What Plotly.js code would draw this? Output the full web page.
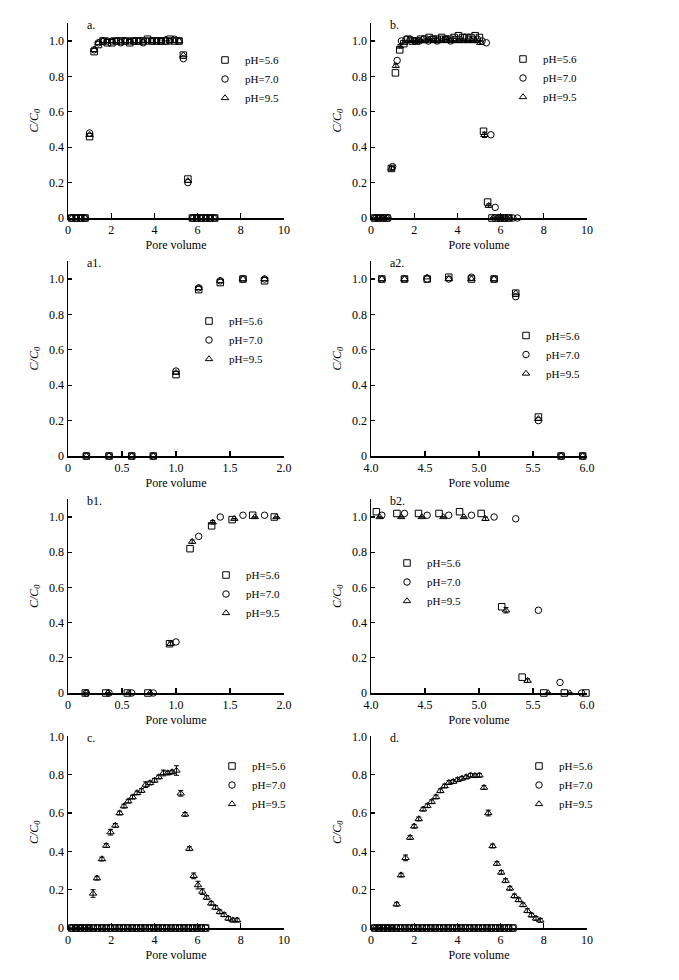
<!DOCTYPE html>
<html><head><meta charset="utf-8">
<script src="https://cdn.plot.ly/plotly-3.0.1.min.js"></script>
<style>html,body{margin:0;padding:0;background:#fff;}#chart{width:679px;height:980px;}</style>
</head><body><div id="chart"></div>
<script>
const seriesNames = ['pH=5.6', 'pH=7.0', 'pH=9.5'];
const panelLabels = ['a.', 'b.', 'a1.', 'a2.', 'b1.', 'b2.', 'c.', 'd.'];
const xTitle = 'Pore volume';
const yTitle = 'C/C<sub>0</sub>';
const yTickVals = [0, 0.2, 0.4, 0.6, 0.8, 1.0];
const yTickText = ['0', '0.2', '0.4', '0.6', '0.8', '1.0'];
const xTickValsFull = [0, 2, 4, 6, 8, 10];
const xTickTextFull = ['0', '2', '4', '6', '8', '10'];
const xTickValsLow = [0, 0.5, 1.0, 1.5, 2.0];
const xTickTextLow = ['0', '0.5', '1.0', '1.5', '2.0'];
const xTickValsHigh = [4.0, 4.5, 5.0, 5.5, 6.0];
const xTickTextHigh = ['4.0', '4.5', '5.0', '5.5', '6.0'];

// Panel a (pH 5.6 / 7.0 / 9.5 share pore volumes)
const aX = [0.17,0.38,0.59,0.79,1.00,1.21,1.41,1.62,1.82,2.03,2.24,2.44,2.65,2.86,3.06,3.27,3.48,3.68,3.89,4.10,4.31,4.52,4.72,4.93,5.14,5.34,5.55,5.76,5.96,6.17,6.38,6.58,6.79];
const aY56 = [0,0,0,0,0.46,0.94,0.98,1.00,0.99,0.99,1.00,1.00,1.00,0.99,1.00,1.00,1.00,1.01,1.00,1.00,1.00,1.00,1.01,1.00,1.00,0.92,0.22,0,0,0,0,0,0];
const aY70 = [0,0,0,0,0.48,0.95,0.99,1.00,1.00,1.00,1.00,0.99,1.00,1.00,1.00,1.00,0.99,1.00,1.00,1.00,1.00,1.00,1.00,1.01,1.00,0.90,0.20,0,0,0,0,0,0];
const aY95 = [0,0,0,0,0.47,0.95,0.99,1.00,1.00,1.00,1.00,1.00,1.00,1.00,1.00,1.00,1.00,1.00,1.00,1.00,1.00,1.01,1.00,1.00,1.00,0.92,0.21,0,0,0,0,0,0];

// Panel b
const bX56 = [0.16,0.35,0.55,0.74,0.94,1.13,1.33,1.52,1.71,1.91,2.10,2.30,2.49,2.69,2.88,3.07,3.27,3.46,3.66,3.85,4.05,4.24,4.44,4.63,4.82,5.02,5.21,5.40,5.60,5.79,5.99,6.18,6.38];
const bY56 = [0,0,0,0,0.28,0.82,0.95,0.985,1.01,1.00,1.00,1.01,1.01,1.02,1.01,1.01,1.02,1.01,1.01,1.02,1.03,1.02,1.02,1.02,1.03,1.02,0.49,0.09,0,0,0,0,0];
const bX70 = [0.17,0.38,0.59,0.79,1.00,1.21,1.41,1.62,1.82,2.03,2.24,2.44,2.65,2.86,3.06,3.27,3.48,3.68,3.89,4.10,4.31,4.52,4.72,4.93,5.14,5.34,5.55,5.75,5.95,6.16,6.37,6.57,6.78];
const bY70 = [0,0,0,0,0.29,0.89,1.00,1.01,1.01,1.00,1.00,1.01,1.00,1.01,1.00,1.01,1.01,1.00,1.01,1.01,1.02,1.01,1.01,1.01,1.00,0.99,0.47,0.06,0,0,0,0,0];
const bX95 = [0.17,0.37,0.56,0.76,0.95,1.15,1.34,1.54,1.73,1.93,2.13,2.32,2.52,2.71,2.91,3.10,3.30,3.49,3.69,3.88,4.08,4.28,4.47,4.67,4.86,5.06,5.25,5.45,5.64,5.84,6.04,6.23,6.43];
const bY95 = [0,0,0,0,0.28,0.86,0.97,0.99,1.00,1.00,1.00,1.00,1.00,1.01,1.00,1.00,1.00,1.01,1.00,1.00,1.00,1.00,1.00,1.00,1.00,0.99,0.47,0.07,0,0,0,0,0];
const bE95 = [0,0,0,0,0.01,0.01,0.01,0,0,0,0,0,0,0,0,0,0,0,0,0,0,0,0,0,0,0.01,0.015,0.01,0,0,0,0,0];

// Panel c
const cX56 = [0.17,0.37,0.57,0.77,0.97,1.17,1.37,1.57,1.77,1.97,2.17,2.37,2.57,2.77,2.97,3.17,3.37,3.57,3.77,3.97,4.17,4.37,4.57,4.77,4.97,5.17,5.37,5.57,5.77,5.97,6.17,6.37];
const cY56 = [0,0,0,0,0,0,0,0,0,0,0,0,0,0,0,0,0,0,0,0,0,0,0,0,0,0,0,0,0,0,0,0];
const cX70 = [0.17,0.37,0.57,0.77,0.97,1.17,1.37,1.57,1.77,1.97,2.17,2.37,2.57,2.77,2.97,3.17,3.37,3.57,3.77,3.97,4.17,4.37,4.57,4.77,4.97,5.17,5.37,5.57,5.77,5.97,6.17,6.37];
const cY70 = [0,0,0,0,0,0,0,0,0,0,0,0,0,0,0,0,0,0,0,0,0,0,0,0,0,0,0,0,0,0,0,0];
const cX95 = [0.16,0.36,0.56,0.76,0.96,1.16,1.34,1.57,1.77,1.97,2.19,2.39,2.59,2.79,2.99,3.20,3.40,3.60,3.80,4.00,4.20,4.42,4.62,4.82,5.02,5.22,5.42,5.62,5.82,6.02,6.22,6.42,6.63,6.83,7.03,7.23,7.43,7.63,7.83];
const cY95 = [0,0,0,0,0,0.18,0.26,0.36,0.43,0.50,0.535,0.60,0.636,0.662,0.683,0.705,0.717,0.748,0.757,0.77,0.788,0.809,0.809,0.814,0.822,0.703,0.593,0.414,0.272,0.224,0.19,0.159,0.129,0.107,0.084,0.069,0.05,0.041,0.041];
const cE95 = [0,0,0,0,0,0.02,0.01,0.01,0.01,0.015,0.01,0.01,0.01,0.01,0.01,0.01,0.01,0.015,0.01,0.01,0.01,0.015,0.01,0.01,0.025,0.015,0.01,0.01,0.015,0.02,0.015,0.01,0.01,0.01,0.01,0.01,0.01,0.01,0.01];

// Panel d
const dX56 = [0.17,0.37,0.57,0.77,0.97,1.17,1.37,1.57,1.77,1.97,2.17,2.37,2.57,2.77,2.97,3.17,3.37,3.57,3.77,3.97,4.17,4.37,4.57,4.77,4.97,5.17,5.37,5.57,5.77,5.97,6.17,6.37,6.57];
const dY56 = [0,0,0,0,0,0,0,0,0,0,0,0,0,0,0,0,0,0,0,0,0,0,0,0,0,0,0,0,0,0,0,0,0];
const dX70 = [0.17,0.37,0.57,0.77,0.97,1.17,1.37,1.57,1.77,1.97,2.17,2.37,2.57,2.77,2.97,3.17,3.37,3.57,3.77,3.97,4.17,4.37,4.57,4.77,4.97,5.17,5.37,5.57,5.77,5.97,6.17,6.37,6.57];
const dY70 = [0,0,0,0,0,0,0,0,0,0,0,0,0,0,0,0,0,0,0,0,0,0,0,0,0,0,0,0,0,0,0,0,0];
const dX95 = [0.19,0.39,0.59,0.79,0.99,1.19,1.39,1.60,1.81,2.00,2.21,2.41,2.61,2.81,3.01,3.21,3.41,3.61,3.81,4.01,4.21,4.41,4.61,4.81,5.02,5.23,5.43,5.63,5.83,6.03,6.23,6.43,6.64,6.84,7.04,7.24,7.44,7.64,7.84];
const dY95 = [0,0,0,0,0,0.124,0.276,0.366,0.472,0.531,0.569,0.62,0.638,0.659,0.684,0.716,0.741,0.759,0.764,0.774,0.781,0.788,0.797,0.795,0.797,0.733,0.60,0.428,0.336,0.29,0.247,0.207,0.167,0.147,0.121,0.09,0.067,0.05,0.04];
const dE95 = [0,0,0,0,0,0.01,0.01,0.015,0.01,0.01,0.01,0.01,0.01,0.01,0.01,0.01,0.01,0.01,0.01,0.01,0.01,0.01,0.01,0.01,0.01,0.01,0.015,0.01,0.01,0.01,0.01,0.01,0.01,0.01,0.01,0.01,0.01,0.01,0.01];

// ---------------- layout geometry (pixels) ----------------
const W = 679, H = 980;
const FONT = 'Liberation Serif, Times New Roman, serif';
const colX = [[68, 284], [371, 587]];
const rowY = [[23.3, 218], [261.3, 456], [499.4, 693], [736.4, 928]];
const px = p => p / W;
const py = p => 1 - p / H;

const symbols = ['square-open', 'circle-open', 'triangle-up-open'];

const panels = [
  {sets: [[aX, aY56], [aX, aY70], [aX, aY95]], xr: [0, 10], xt: 'full', yr: [0, 1.1], leg: [205, 45.5]},
  {sets: [[bX56, bY56], [bX70, bY70], [bX95, bY95, bE95]], xr: [0, 10], xt: 'full', yr: [0, 1.1], leg: [503, 44.5]},
  {sets: [[aX, aY56], [aX, aY70], [aX, aY95]], xr: [0, 2], xt: 'low', yr: [0, 1.1], leg: [189, 306.5]},
  {sets: [[aX, aY56], [aX, aY70], [aX, aY95]], xr: [4, 6], xt: 'high', yr: [0, 1.1], leg: [506, 321]},
  {sets: [[bX56, bY56], [bX70, bY70], [bX95, bY95, bE95]], xr: [0, 2], xt: 'low', yr: [0, 1.1], leg: [206, 560.5]},
  {sets: [[bX56, bY56], [bX70, bY70], [bX95, bY95, bE95]], xr: [4, 6], xt: 'high', yr: [0, 1.1], leg: [387, 548.5]},
  {sets: [[cX56, cY56], [cX70, cY70], [cX95, cY95, cE95]], xr: [0, 10], xt: 'full', yr: [0, 1.0], leg: [212, 751.5]},
  {sets: [[dX56, dY56], [dX70, dY70], [dX95, dY95, dE95]], xr: [0, 10], xt: 'full', yr: [0, 1.0], leg: [519, 751.5]}
];

const traces = [];
const layout = {
  width: W, height: H,
  margin: {l: 0, r: 0, t: 0, b: 0},
  paper_bgcolor: '#fff', plot_bgcolor: 'rgba(0,0,0,0)',
  font: {family: FONT, size: 12, color: '#000'},
  showlegend: true,
  annotations: []
};
const tfont = {family: FONT, size: 12, color: '#000'};

panels.forEach((p, i) => {
  const n = i + 1;
  const sfx = n === 1 ? '' : String(n);
  const row = Math.floor(i / 2), col = i % 2;
  const legName = 'legend' + sfx;
  p.sets.forEach((s, j) => {
    const xs = [], ys = [], es = [];
    s[0].forEach((xv, k) => {
      if (xv >= p.xr[0] && xv <= p.xr[1]) {
        xs.push(xv); ys.push(s[1][k]); es.push(s[2] ? s[2][k] : 0);
      }
    });
    const tr = {
      type: 'scatter', mode: 'markers', x: xs, y: ys,
      xaxis: 'x' + sfx, yaxis: 'y' + sfx,
      name: seriesNames[j], legend: legName, showlegend: true,
      cliponaxis: false,
      marker: {symbol: symbols[j], size: 6.5, color: '#000', line: {width: 1, color: '#000'}}
    };
    if (s[2]) {
      tr.error_y = {type: 'data', array: es, visible: true, color: '#000', thickness: 1, width: 2.5};
    }
    traces.push(tr);
  });
  const xtv = p.xt === 'full' ? xTickValsFull : (p.xt === 'low' ? xTickValsLow : xTickValsHigh);
  const xtt = p.xt === 'full' ? xTickTextFull : (p.xt === 'low' ? xTickTextLow : xTickTextHigh);
  layout['xaxis' + sfx] = {
    domain: [px(colX[col][0]), px(colX[col][1])],
    range: p.xr, anchor: 'y' + sfx,
    tickmode: 'array', tickvals: xtv, ticktext: xtt,
    ticks: 'inside', ticklen: 5, tickwidth: 1.3, tickcolor: '#000',
    showline: true, linecolor: '#000', linewidth: 1.5,
    showgrid: false, zeroline: false, fixedrange: true,
    tickfont: tfont,
    title: {text: xTitle, font: tfont, standoff: 4}
  };
  const yax = {
    domain: [py(rowY[row][1]), py(rowY[row][0])],
    range: p.yr, anchor: 'x' + sfx,
    tickmode: 'array', tickvals: yTickVals, ticktext: yTickText,
    ticks: 'inside', ticklen: 4, tickwidth: 1.3, tickcolor: '#000',
    showline: true, linecolor: '#000', linewidth: 1.5,
    showgrid: false, zeroline: false, fixedrange: true,
    tickfont: tfont,
    title: {text: yTitle, font: {family: FONT, size: 12, color: '#000', style: 'italic'}, standoff: 8}
  };
  if (p.yr[1] > 1.05) {
    yax.minor = {tickmode: 'array', tickvals: [1.1], ticks: 'inside', ticklen: 7, tickwidth: 1.3, tickcolor: '#000', showgrid: false};
  }
  layout['yaxis' + sfx] = yax;
  layout[legName] = {
    x: px(p.leg[0]), y: py(p.leg[1]), xanchor: 'left', yanchor: 'top',
    bgcolor: 'rgba(0,0,0,0)', borderwidth: 0,
    font: {family: FONT, size: 11, color: '#000'},
    traceorder: 'normal'
  };
  layout.annotations.push({
    text: panelLabels[i], xref: 'paper', yref: 'paper',
    x: px(colX[col][0] + 17), y: py(rowY[row][0] + 1.5),
    xanchor: 'left', yanchor: 'middle', showarrow: false, font: tfont
  });
});

Plotly.newPlot('chart', traces, layout, {staticPlot: true, displayModeBar: false});
</script>
</body></html>
